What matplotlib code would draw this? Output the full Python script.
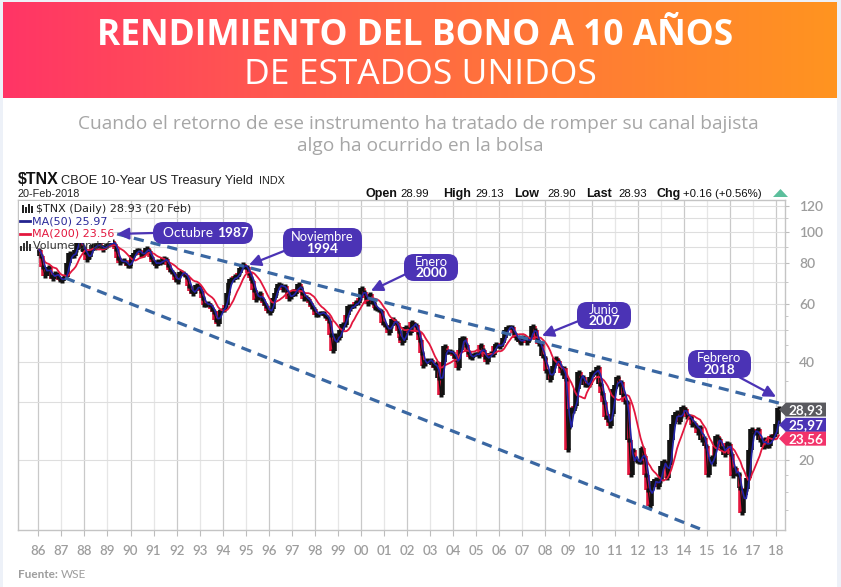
import numpy as np
import pandas as pd
import matplotlib
matplotlib.use("Agg")
import matplotlib.pyplot as plt
from matplotlib.patches import FancyBboxPatch, Polygon, Rectangle
from matplotlib.colors import LinearSegmentedColormap
from matplotlib.ticker import FixedLocator, NullFormatter

# ---------------- data (TNX = 10 x yield, monthly, Jan 1986 .. Feb 2018) ----------------
start_year = 1986
tnx_monthly = [
    88.0, 84.0, 77.8, 73.0, 77.1, 78.0, 73.0, 71.7, 74.5, 74.3, 72.5, 71.1,   # 1986
    70.8, 72.5, 72.5, 80.2, 86.1, 84.0, 84.5, 87.6, 94.2, 96.0, 88.6, 89.9,   # 1987
    86.7, 82.1, 83.7, 87.2, 90.9, 89.2, 90.6, 92.6, 89.8, 88.0, 89.6, 91.1,   # 1988
    90.9, 91.7, 93.6, 91.8, 88.6, 82.8, 80.2, 81.1, 81.9, 80.1, 78.7, 78.4,   # 1989
    82.1, 84.7, 85.9, 87.9, 87.6, 84.8, 84.7, 87.5, 88.9, 87.2, 83.9, 80.8,   # 1990
    80.9, 78.5, 81.1, 80.4, 80.7, 82.8, 82.7, 79.0, 76.5, 75.3, 74.2, 70.9,   # 1991
    70.3, 73.4, 75.4, 74.8, 73.9, 72.6, 68.4, 65.9, 64.2, 65.9, 68.7, 67.7,   # 1992
    66.0, 62.6, 59.8, 59.7, 60.4, 59.6, 58.1, 56.8, 53.6, 52.0, 57.2, 57.7,   # 1993
    57.5, 59.7, 64.8, 69.7, 71.8, 71.0, 73.0, 72.4, 74.6, 77.4, 79.6, 78.1,   # 1994
    77.8, 74.7, 72.0, 70.6, 66.3, 61.7, 62.8, 64.9, 62.0, 60.4, 59.3, 57.1,   # 1995
    56.5, 58.1, 62.7, 65.1, 67.4, 69.1, 68.7, 66.4, 68.3, 65.3, 62.0, 63.0,   # 1996
    65.8, 64.2, 66.9, 68.9, 67.1, 64.9, 62.2, 63.0, 62.1, 60.3, 58.8, 58.1,   # 1997
    55.4, 55.7, 56.5, 56.4, 56.5, 55.0, 54.6, 53.4, 48.1, 43.0, 48.3, 46.5,   # 1998
    47.2, 50.0, 52.3, 51.8, 55.4, 59.0, 57.9, 59.4, 59.2, 61.1, 60.3, 62.8,   # 1999
    67.0, 65.2, 62.6, 59.9, 64.4, 61.0, 60.5, 58.3, 58.0, 57.4, 57.2, 52.4,   # 2000
    51.6, 51.0, 48.9, 51.4, 53.9, 52.8, 52.4, 49.7, 47.3, 45.7, 46.5, 50.9,   # 2001
    50.4, 49.1, 52.8, 52.1, 51.6, 49.3, 46.5, 42.6, 38.7, 39.4, 40.5, 40.3,   # 2002
    40.5, 39.0, 38.1, 39.6, 35.7, 31.5, 39.8, 44.5, 42.7, 42.9, 43.0, 42.7,   # 2003
    41.5, 40.8, 38.3, 43.5, 47.2, 47.3, 45.0, 42.8, 41.3, 41.0, 41.9, 42.3,   # 2004
    42.2, 41.7, 45.0, 43.4, 41.4, 40.0, 41.8, 42.6, 42.0, 44.6, 45.4, 44.7,   # 2005
    44.2, 45.7, 47.2, 49.9, 51.1, 51.1, 50.9, 48.8, 47.2, 47.3, 46.0, 45.6,   # 2006
    47.6, 47.2, 45.6, 46.9, 47.5, 51.5, 50.0, 46.7, 45.2, 45.3, 41.5, 41.0,   # 2007
    37.4, 37.4, 35.1, 36.8, 38.8, 41.0, 40.1, 38.9, 36.9, 38.1, 35.3, 21.5,   # 2008
    25.2, 28.7, 28.2, 29.3, 32.9, 37.2, 35.6, 35.9, 34.0, 33.9, 34.0, 35.9,   # 2009
    37.3, 36.9, 37.3, 38.5, 34.2, 32.0, 30.1, 27.0, 26.5, 25.4, 27.6, 32.9,   # 2010
    33.9, 35.8, 34.1, 34.6, 31.7, 30.0, 30.0, 23.0, 18.0, 21.5, 20.1, 19.8,   # 2011
    19.7, 19.7, 21.7, 20.5, 18.0, 16.2, 14.5, 16.8, 17.2, 17.5, 16.5, 17.2,   # 2012
    19.1, 19.8, 19.6, 17.6, 19.3, 23.0, 25.8, 27.4, 28.1, 26.2, 27.2, 29.0,   # 2013
    28.6, 27.1, 27.2, 27.1, 25.6, 26.0, 25.4, 24.2, 25.3, 23.0, 23.3, 22.1,   # 2014
    18.0, 19.8, 20.4, 19.4, 22.0, 23.6, 23.2, 21.7, 21.7, 20.7, 22.6, 22.4,   # 2015
    20.9, 17.8, 18.9, 18.1, 18.1, 16.4, 13.8, 15.6, 16.3, 17.6, 21.4, 24.9,   # 2016
    24.3, 24.2, 24.8, 23.0, 23.0, 21.9, 23.2, 22.1, 22.0, 23.6, 23.5, 24.0,   # 2017
    25.8, 28.9,                                                               # 2018
]
ma50_window_months = 3     # ~50 trading days
ma200_window_months = 10   # ~200 trading days

year_ticks = list(range(1986, 2019))
year_labels = [f"{y % 100:02d}" for y in year_ticks]
y_tick_values = [20, 40, 60, 80, 100, 120]
y_grid_values = [20, 30, 40, 50, 60, 70, 80, 90, 100, 110, 120]
y_minor_values = [14, 16, 18, 25, 35, 45, 50, 55, 70, 90, 110]

upper_channel_x = [1989.42, 2018.17]
upper_channel_y = [98.4, 29.8]
lower_channel_x = [1987.16, 2014.70]
lower_channel_y = [72.2, 12.3]

last_price, last_ma50, last_ma200 = 28.93, 25.97, 23.56

callouts = [  # (line1, line2, tip_year, tip_value)
    ("Octubre", "1987", 1989.42, 98.4),
    ("Noviembre", "1994", 1995.14, 79.1),
    ("Enero", "2000", 2000.43, 65.9),
    ("Junio", "2007", 2007.85, 48.0),
    ("Febrero", "2018", 2018.0, 31.2),
]

# ---------------- figure ----------------
W, H = 841, 587
fig = plt.figure(figsize=(W / 100, H / 100), dpi=100)
fig.patch.set_facecolor("white")

PURPLE = "#4B33B5"
GRAY_TXT = "#9d9d9d"
SANS = ["Lato", "DejaVu Sans"]
WIDE = ["Open Sans", "DejaVu Sans"]

# header gradient
hdr = fig.add_axes([3 / W, 1 - 98 / H, 834 / W, 96 / H])
cmap = LinearSegmentedColormap.from_list("g", ["#FF3566", "#FF5A4E", "#FF7A36", "#FF9420"])
hdr.imshow(np.linspace(0, 1, 256)[None, :], aspect="auto", cmap=cmap, extent=[0, 1, 0, 1])
hdr.axis("off")

# main axes
ax = fig.add_axes([18 / W, 57 / H, 767 / W, 330 / H])
ax.set_yscale("log")
ax.set_xlim(1985.12, 2018.39)
ax.set_ylim(12.2, 125)

vals = np.array(tnx_monthly, dtype=float)
n = len(vals)
dates = start_year + (np.arange(n) + 0.5) / 12.0
s = pd.Series(vals)
ma50 = s.rolling(ma50_window_months, min_periods=1).mean().values
ma200 = s.rolling(ma200_window_months, min_periods=1).mean().values

# grid
for y in year_ticks:
    ax.axvline(y, color="#c9c9c9" if y % 2 == 0 else "#e6e6e6", lw=0.9, zorder=0)
for g in y_grid_values:
    ax.axhline(g, color="#dedede", lw=0.8, zorder=0)

# price bars (range of neighbouring monthly closes)
prev = np.r_[vals[0], vals[:-1]]
nxt = np.r_[vals[1:], vals[-1]]
lo = np.minimum.reduce([prev, vals, nxt])
hi = np.maximum.reduce([prev, vals, nxt])
cols = np.where(vals >= prev, "#111111", "#e3173e")
ax.vlines(dates, lo, hi, colors=cols, lw=2.6, zorder=2)
ax.plot(dates, vals, color="#111111", lw=1.0, zorder=2)
ax.plot(dates, vals, ls="none", marker="s", ms=2.2, mfc="#111111", mec="none", zorder=2)
ax.plot(dates, ma200, color="#e3173e", lw=1.3, zorder=3)
ax.plot(dates, ma50, color="#2323a6", lw=1.2, zorder=3)

# channel lines
ax.plot(upper_channel_x, upper_channel_y, color="#3A67A2", lw=2.3,
        linestyle=(0, (3.2, 2.2)), zorder=4)
ax.plot(lower_channel_x, lower_channel_y, color="#3A67A2", lw=2.3,
        linestyle=(0, (3.2, 2.2)), zorder=4)

# axes styling
for sp in ax.spines.values():
    sp.set_color("#c4c4c4")
    sp.set_linewidth(1.0)
ax.set_xticks(year_ticks)
ax.set_xticklabels(year_labels)
ax.yaxis.tick_right()
ax.yaxis.set_major_locator(FixedLocator(y_tick_values))
ax.yaxis.set_minor_locator(FixedLocator(y_minor_values))
ax.yaxis.set_minor_formatter(NullFormatter())
ax.set_yticklabels([str(v) for v in y_tick_values])
ax.tick_params(axis="x", direction="out", length=4, color="#bdbdbd", pad=7,
               labelsize=9.5, labelcolor=GRAY_TXT)
ax.tick_params(axis="y", which="major", direction="out", length=3, color="#bdbdbd", pad=7,
               labelsize=10, labelcolor=GRAY_TXT)
ax.tick_params(axis="y", which="minor", direction="out", length=2, color="#bdbdbd")
for lab in ax.get_xticklabels() + ax.get_yticklabels():
    lab.set_family(SANS)
    lab.set_fontweight("semibold")

# ---------------- overlay in pixel coords ----------------
ov = fig.add_axes([0, 0, 1, 1])
ov.set_xlim(0, W)
ov.set_ylim(H, 0)
ov.axis("off")

# side strips
for x0, w in [(0, 3), (837, 4)]:
    ov.add_patch(Rectangle((x0, 0), w, H, color="#EDF1F8", lw=0))
ov.add_patch(Rectangle((0, 0), W, 2, color="#EDF1F8", lw=0))

# titles
ov.text(415, 36, "RENDIMIENTO DEL BONO A 10 AÑOS", ha="center", va="center",
        color="white", fontsize=25.5, fontweight="bold", family=WIDE)
ov.text(420, 75, "DE ESTADOS UNIDOS", ha="center", va="center",
        color="white", fontsize=25.5, fontweight="normal", family=WIDE)
ov.text(418, 124, "Cuando el retorno de ese instrumento ha tratado de romper su canal bajista",
        ha="center", va="center", color="#a6a6a6", fontsize=13.8, fontweight="normal", family=WIDE)
ov.text(420, 146, "algo ha ocurrido en la bolsa",
        ha="center", va="center", color="#a6a6a6", fontsize=13.8, fontweight="normal", family=WIDE)

# chart header
LIB = ["Liberation Sans", "DejaVu Sans"]
ov.text(18, 184, "$TNX", ha="left", va="baseline", fontsize=11.5, fontweight="bold",
        family=LIB, color="#111")
ov.text(61, 184, "CBOE 10-Year US Treasury Yield", ha="left", va="baseline", fontsize=9.3,
        family=LIB, color="#222")
ov.text(259, 184, "INDX", ha="left", va="baseline", fontsize=7.8, family=LIB, color="#222")
ov.text(18, 197, "20-Feb-2018", ha="left", va="baseline", fontsize=7.8, family=LIB, color="#222")
pieces = [("Open", 366, True), ("28.99", 400, False), ("High", 443, True), ("29.13", 475, False),
          ("Low", 514, True), ("28.90", 547, False), ("Last", 586, True), ("28.93", 618, False),
          ("Chg", 657, True), ("+0.16 (+0.56%)", 683, False)]
for txt, x, b in pieces:
    ov.text(x, 197, txt, ha="left", va="baseline", fontsize=9 if b else 8.2,
            fontweight="bold" if b else "normal", family=LIB, color="#111")
ov.add_patch(Polygon([(773, 197), (788, 197), (780.5, 189)], closed=True, color="#5CBF9C", lw=0))

# legend inside chart
ov.add_patch(Rectangle((19, 201), 94, 42, color="white", lw=0, zorder=1))
LEG = ["DejaVu Sans"]
for xx, hh in [(22, 8), (25, 6), (28, 9), (31, 7)]:
    ov.add_patch(Rectangle((xx, 213 - hh), 1.8, hh, color="#222", lw=0, zorder=2))
ov.text(36, 209, "$TNX (Daily) 28.93 (20 Feb)", ha="left", va="center", fontsize=8,
        family=LEG, color="#222", zorder=3)
ov.plot([20, 30], [221, 221], color="#23238f", lw=2, zorder=3)
ov.text(32, 221, "MA(50) 25.97", ha="left", va="center", fontsize=8, family=LEG,
        color="#2a2a9a", zorder=3)
ov.plot([20, 30], [234, 234], color="#e3173e", lw=2, zorder=3)
ov.text(32, 234, "MA(200) 23.56", ha="left", va="center", fontsize=8, family=LEG,
        color="#e3173e", zorder=3)
for xx, hh in [(20, 5), (23, 8), (26, 10), (29, 7)]:
    ov.add_patch(Rectangle((xx, 251 - hh), 2, hh, color="#333", lw=0, zorder=2))
ov.text(33, 246, "Volume undef", ha="left", va="center", fontsize=8, family=LEG,
        color="#333", zorder=3)

# callouts
boxes = [  # (x0, y0, w, h, single_line)
    (153, 222, 100, 22, True),
    (283, 228, 79, 29, False),
    (404, 254, 54, 27, False),
    (577, 302, 54, 27, False),
    (688, 350, 63, 28, False),
]
starts = [(153, 233), (289, 249), (408, 273), (581, 320), (737, 376)]
for (l1, l2, tx, tv), (bx, by, bw, bh, single), (sx, sy) in zip(callouts, boxes, starts):
    ov.add_patch(FancyBboxPatch((bx, by), bw, bh, boxstyle="round,pad=0,rounding_size=10",
                                facecolor=PURPLE, edgecolor="none", zorder=4))
    cx = bx + bw / 2
    if single:
        ov.text(cx + 14, by + bh / 2, l1 + " ", ha="right", va="center", fontsize=9.8,
                color="white", family=SANS, zorder=5)
        ov.text(cx + 14, by + bh / 2, l2, ha="left", va="center", fontsize=9.8,
                fontweight="bold", color="white", family=SANS, zorder=5)
    else:
        ov.text(cx, by + bh * 0.30, l1, ha="center", va="center", fontsize=9.3,
                color="white", family=SANS, zorder=5)
        ov.text(cx, by + bh * 0.72, l2, ha="center", va="center", fontsize=9.8,
                fontweight="bold", color="white", family=SANS, zorder=5)
    ax.annotate("", xy=(tx, tv), xycoords="data", xytext=(sx, H - sy),
                textcoords="figure pixels", annotation_clip=False,
                arrowprops=dict(arrowstyle="-|>,head_length=0.7,head_width=0.35",
                                color=PURPLE, lw=1.6, shrinkA=0, shrinkB=0), zorder=6)

# right-side value tags, placed at the series' last values
for v, col in [(last_price, "#5A5A5F"), (last_ma50, "#4B33B5"), (last_ma200, "#F2336A")]:
    yd = ax.transData.transform((2018.0, v))[1]
    py = H - yd + 2
    ov.add_patch(Polygon([(779, py), (786, py - 7), (826, py - 7), (826, py + 7), (786, py + 7)],
                         closed=True, facecolor=col, edgecolor="none", zorder=5))
    ov.text(806, py + 0.5, f"{v:.2f}".replace(".", ","), ha="center", va="center",
            fontsize=9.8, fontweight="bold", color="white", family=SANS, zorder=6)

# source
ov.text(18, 574, "Fuente:", ha="left", va="center", fontsize=8.5, fontweight="bold",
        color=GRAY_TXT, family=SANS)
ov.text(61, 574, "WSE", ha="left", va="center", fontsize=8.5, color=GRAY_TXT, family=SANS)

fig.savefig("out.png", dpi=100)
